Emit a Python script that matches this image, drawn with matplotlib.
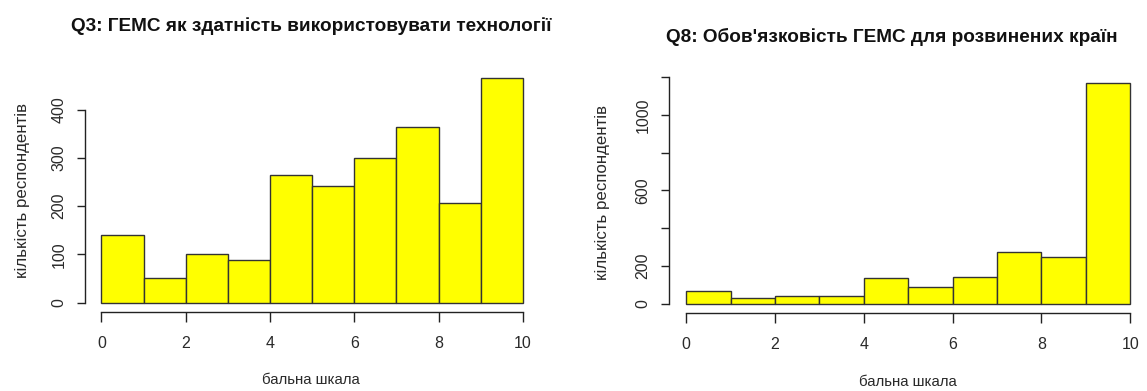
import numpy as np
import matplotlib
matplotlib.use("Agg")
import matplotlib.pyplot as plt

plt.rcParams['font.family'] = ['Liberation Sans', 'DejaVu Sans']

# Histogram data: 10 unit-wide bins on a 0..10 scale
bin_edges = [0, 1, 2, 3, 4, 5, 6, 7, 8, 9, 10]
q3_counts = [140, 50, 100, 88, 265, 241, 299, 363, 206, 466]
q8_counts = [67, 28, 39, 39, 134, 88, 139, 272, 245, 1170]

q3_title = "Q3: ГЕМС як здатність використовувати технології"
q8_title = "Q8: Обов'язковість ГЕМС для розвинених країн"
x_label = "бальна шкала"
y_label = "кількість респондентів"

x_ticks = [0, 2, 4, 6, 8, 10]
q3_yticks = [0, 100, 200, 300, 400]
q3_yticklabels = ["0", "100", "200", "300", "400"]
q8_yticks = [0, 200, 400, 600, 800, 1000, 1200]
q8_yticklabels = ["0", "200", "", "600", "", "1000", ""]

W, H = 1147, 391
fig = plt.figure(figsize=(W / 100, H / 100), dpi=100)

TEXT = "#2a2a2a"
LINE = "#222222"


def px_axes(left, top, right, bottom):
    return fig.add_axes([left / W, 1 - bottom / H, (right - left) / W, (bottom - top) / H])


def r_hist(ax, counts, yticks, yticklabels, ytop):
    edges = np.array(bin_edges, dtype=float)
    ax.bar(edges[:-1], counts, width=np.diff(edges), align='edge',
           color='#ffff00', edgecolor='#333333', linewidth=1.0)
    ymax = max(counts)
    ax.set_xlim(-0.04 * 10, 10 * 1.04)
    ax.set_ylim(-0.04 * ymax, ymax * 1.04)
    for s in ('top', 'right'):
        ax.spines[s].set_visible(False)
    ax.spines['left'].set_bounds(0, ytop)
    ax.spines['bottom'].set_bounds(0, 10)
    for s in ('left', 'bottom'):
        ax.spines[s].set_color(LINE)
        ax.spines[s].set_linewidth(1.0)
    ax.set_xticks(x_ticks)
    ax.set_xticklabels([str(t) for t in x_ticks])
    ax.set_yticks(yticks)
    ax.set_yticklabels(yticklabels, rotation=90, va='center')
    ax.tick_params(axis='x', length=7, width=1.0, color=LINE, pad=10.5,
                   labelsize=11.5, labelcolor=TEXT)
    ax.tick_params(axis='y', length=6, width=1.0, color=LINE, pad=7,
                   labelsize=11.5, labelcolor=TEXT)


# Left panel
ax1 = px_axes(84.5, 68.7, 539.8, 311.5)
r_hist(ax1, q3_counts, q3_yticks, q3_yticklabels, 400)

# Right panel
ax2 = px_axes(668.5, 73.9, 1148.0, 312.5)
r_hist(ax2, q8_counts, q8_yticks, q8_yticklabels, 1200)

# Titles and axis labels
fig.text(311 / W, 1 - 26 / H, q3_title, ha='center', va='center',
         fontsize=13.7, fontweight='bold', color='#111111')
fig.text(892 / W, 1 - 37 / H, q8_title, ha='center', va='center',
         fontsize=13.7, fontweight='bold', color='#111111')

fig.text(311 / W, 1 - 380 / H, x_label, ha='center', va='center',
         fontsize=10.8, color=TEXT)
fig.text(908 / W, 1 - 381.5 / H, x_label, ha='center', va='center',
         fontsize=10.8, color=TEXT)
fig.text(22.7 / W, 1 - 190.5 / H, y_label, ha='center', va='center',
         rotation=90, fontsize=12.2, color=TEXT)
fig.text(603 / W, 1 - 193 / H, y_label, ha='center', va='center',
         rotation=90, fontsize=12.2, color=TEXT)

fig.savefig("out.png", dpi=100, facecolor='white')
